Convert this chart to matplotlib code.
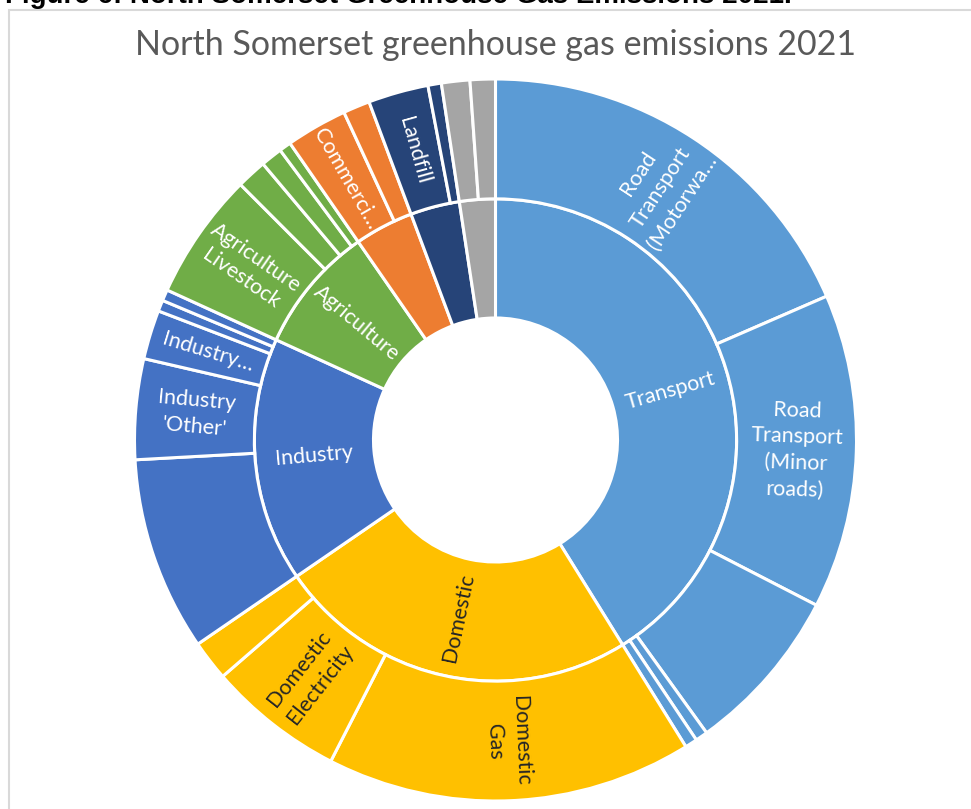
import numpy as np
import matplotlib.pyplot as plt
from matplotlib.patches import Rectangle

# sector level (inner ring) and sub-sector level (outer ring), % of total
sectors = ['Transport', 'Domestic', 'Industry', 'Agriculture', 'Commercial', 'Waste', 'Other']
sector_colors = ['#5B9BD5', '#FFC000', '#4472C4', '#70AD47', '#ED7D31', '#264478', '#A5A5A5']
sector_labels = ['Transport', 'Domestic', 'Industry', 'Agriculture', None, None, None]

transport_names = ['Road Transport (Motorways)', 'Road Transport (Minor roads)',
                   'Road Transport (A roads)', 'Transport Other', 'Diesel Railways']
transport_vals = [18.5, 14.1, 7.5, 0.55, 0.55]
transport_labels = ['Road\nTransport\n(Motorwa…', 'Road\nTransport\n(Minor\nroads)', None, None, None]

domestic_names = ['Domestic Gas', 'Domestic Electricity', 'Domestic Other']
domestic_vals = [16.4, 6.1, 1.8]
domestic_labels = ['Domestic\nGas', 'Domestic\nElectricity', None]

industry_names = ['Industry Gas', "Industry 'Other'", 'Industry Electricity',
                  'Industry Large', 'Industry Minor']
industry_vals = [8.7, 4.5, 2.2, 0.5, 0.5]
industry_labels = [None, "Industry\n'Other'", 'Industry…', None, None]

agriculture_names = ['Agriculture Livestock', 'Agriculture Soils', 'Agriculture Other',
                     'Agriculture Electricity']
agriculture_vals = [5.7, 1.35, 0.97, 0.53]
agriculture_labels = ['Agriculture\nLivestock', None, None, None]

commercial_names = ['Commercial Electricity', 'Commercial Gas']
commercial_vals = [2.75, 1.2]
commercial_labels = ['Commerci…', None]

waste_names = ['Landfill', 'Waste Other']
waste_vals = [2.7, 0.6]
waste_labels = ['Landfill', None]

other_names = ['Other 1', 'Other 2']
other_vals = [1.27, 1.13]
other_labels = [None, None]

groups = [transport_vals, domestic_vals, industry_vals, agriculture_vals,
          commercial_vals, waste_vals, other_vals]
group_labels = [transport_labels, domestic_labels, industry_labels, agriculture_labels,
                commercial_labels, waste_labels, other_labels]

inner_vals = [sum(g) for g in groups]
outer_vals = [v for g in groups for v in g]
outer_colors = [c for g, c in zip(groups, sector_colors) for _ in g]
outer_labels = [l for gl in group_labels for l in gl]
dark_text = {'#FFC000'}

plt.rcParams['font.family'] = ['Lato', 'DejaVu Sans']

fig = plt.figure(figsize=(9.71, 8.09), dpi=100)
W, H = 971, 809
cx, cy, R = 495.5, 440, 361
ax = fig.add_axes([(cx - R) / W, (H - cy - R) / H, 2 * R / W, 2 * R / H])

r_hole, r_mid = 0.338, 0.668
wp = dict(edgecolor='white', linewidth=2.2)
ax.pie(inner_vals, radius=r_mid, colors=sector_colors, startangle=90, counterclock=False,
       wedgeprops=dict(width=r_mid - r_hole, **wp))
ax.pie(outer_vals, radius=1.0, colors=outer_colors, startangle=90, counterclock=False,
       wedgeprops=dict(width=1.0 - r_mid, **wp))
ax.set_xlim(-1, 1)
ax.set_ylim(-1, 1)
ax.set_aspect('equal')
ax.axis('off')


def put_labels(vals, labels, colors, r):
    total = sum(vals)
    cum = 0
    for v, lab, col in zip(vals, labels, colors):
        mid = 360 * (cum + v / 2) / total
        cum += v
        if lab is None:
            continue
        t = np.radians(mid)
        rot = 90 - mid
        while rot > 90:
            rot -= 180
        while rot < -90:
            rot += 180
        tc = '#262626' if col in dark_text else 'white'
        ax.text(r * np.sin(t), r * np.cos(t), lab, rotation=rot, rotation_mode='anchor',
                ha='center', va='center', multialignment='center', color=tc,
                fontsize=15.5, linespacing=1.4)


put_labels(inner_vals, sector_labels, sector_colors, (r_hole + r_mid) / 2)
put_labels(outer_vals, outer_labels, outer_colors, (r_mid + 1.0) / 2)

fig.text(cx / W, 1 - 45 / H, 'North Somerset greenhouse gas emissions 2021',
         ha='center', va='center', fontsize=24.5, color='#595959')

# chart frame and the clipped figure caption above it
fig.patches.append(Rectangle((9 / W, -0.05), 1.1, 1 - 10 / H + 0.05, transform=fig.transFigure,
                             fill=False, edgecolor='#d9d9d9', linewidth=1.5))
fig.text(5 / W, 1 - 3 / H, 'Figure 6: North Somerset Greenhouse Gas Emissions 2021.',
         ha='left', va='baseline', fontsize=20, fontweight='bold', color='black',
         family='Liberation Sans')

fig.savefig('out.png', dpi=100)
